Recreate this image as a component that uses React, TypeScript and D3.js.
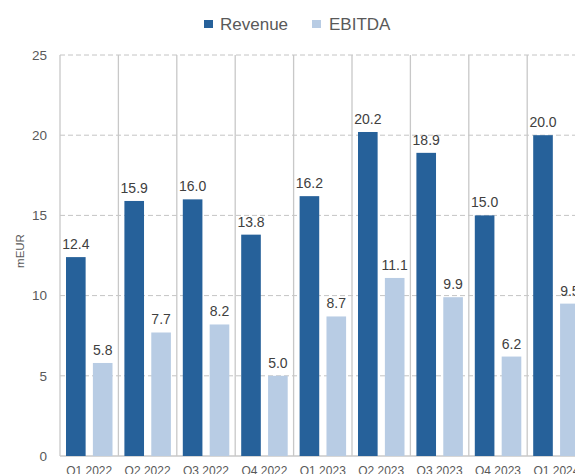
import React from "react";
import * as d3 from "d3";

const categories = ["Q1 2022", "Q2 2022", "Q3 2022", "Q4 2022", "Q1 2023", "Q2 2023", "Q3 2023", "Q4 2023", "Q1 2024"];
const revenue = [12.4, 15.9, 16.0, 13.8, 16.2, 20.2, 18.9, 15.0, 20.0];
const ebitda = [5.8, 7.7, 8.2, 5.0, 8.7, 11.1, 9.9, 6.2, 9.5];
const seriesNames = ["Revenue", "EBITDA"];
const yTicks = [0, 5, 10, 15, 20, 25];

const W = 575;
const H = 474;
const colors: Record<string, string> = { Revenue: "#26619a", EBITDA: "#b8cce4" };
const textColor = "#595959";
const font = "'Liberation Sans', Arial, sans-serif";

export default function App() {
  const left = 60;
  const step = 58.4;
  const x0 = d3.scaleBand<string>().domain(categories).range([left, left + step * categories.length]).padding(0);
  const x1 = d3.scaleBand<string>().domain(seriesNames).range([6, 52.5]).paddingInner(0.27).paddingOuter(0);
  const y = d3.scaleLinear().domain([0, 25]).range([456, 55]);
  const data: Record<string, number[]> = { Revenue: revenue, EBITDA: ebitda };
  const right = left + step * categories.length;

  return (
    <svg width={W} height={H} style={{ position: "absolute", left: 0, top: 0, background: "#fff" }} fontFamily={font}>
      {yTicks.filter((t) => t > 0).map((t) => (
        <line key={"g" + t} x1={left} x2={right} y1={y(t)} y2={y(t)} stroke="#c4c4c4" strokeWidth={1} strokeDasharray="5,3" />
      ))}
      {categories.map((c) => (
        <line key={"v" + c} x1={x0(c)!} x2={x0(c)!} y1={y(25)} y2={y(0)} stroke="#c8c8c8" strokeWidth={1.3} />
      ))}
      <line x1={left} x2={right} y1={y(0)} y2={y(0)} stroke="#c8c8c8" strokeWidth={1.3} />
      {categories.map((c, i) =>
        seriesNames.map((s) => {
          const v = data[s][i];
          const bx = x0(c)! + x1(s)!;
          return (
            <g key={c + s}>
              <rect x={bx} y={y(v)} width={x1.bandwidth()} height={y(0) - y(v)} fill={colors[s]} />
              <text x={bx + x1.bandwidth() / 2} y={y(v) - 8} textAnchor="middle" fontSize={14} fill="#404040">
                {v.toFixed(1)}
              </text>
            </g>
          );
        })
      )}
      {yTicks.map((t) => (
        <text key={"t" + t} x={47} y={y(t)} dy="0.35em" textAnchor="end" fontSize={13.5} fill={textColor}>
          {t}
        </text>
      ))}
      <text transform={`translate(24,251) rotate(-90)`} textAnchor="middle" fontSize={11.5} fill={textColor}>
        mEUR
      </text>
      {categories.map((c) => (
        <text key={"x" + c} x={x0(c)! + step / 2} y={475} textAnchor="middle" fontSize={12} fill={textColor}>
          {c}
        </text>
      ))}
      <rect x={204} y={20} width={9} height={8} fill={colors.Revenue} />
      <text x={220} y={30} fontSize={17} fill={textColor}>Revenue</text>
      <rect x={312} y={20} width={9} height={8} fill={colors.EBITDA} />
      <text x={329} y={30} fontSize={17} fill={textColor}>EBITDA</text>
    </svg>
  );
}
